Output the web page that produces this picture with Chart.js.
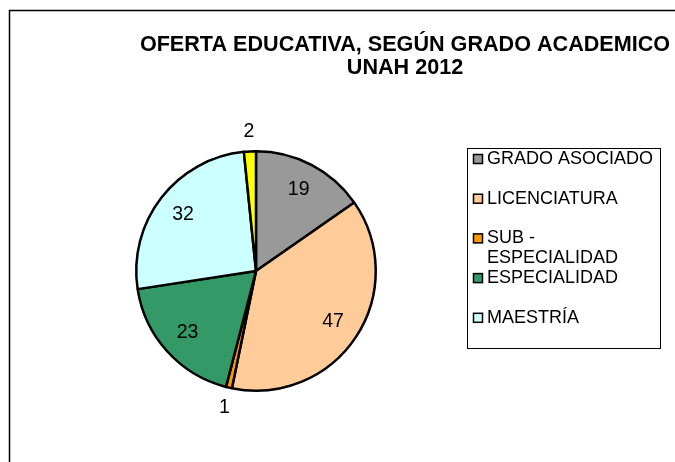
<!DOCTYPE html>
<html>
<head>
<meta charset="utf-8">
<script src="https://cdn.jsdelivr.net/npm/chart.js@4"></script>
<style>
  html, body { margin: 0; padding: 0; background: #fff; }
  #wrap { width: 675px; height: 462px; position: relative; }
</style>
</head>
<body>
<div id="wrap"><canvas id="myChart" width="675" height="462"></canvas></div>
<script>
let titleLines = ['OFERTA EDUCATIVA, SEGÚN GRADO ACADEMICO', 'UNAH 2012'];
let labels = ['GRADO ASOCIADO', 'LICENCIATURA', 'SUB - ESPECIALIDAD', 'ESPECIALIDAD', 'MAESTRÍA', 'DOCTORADO'];
let values = [19, 47, 1, 23, 32, 2];
let colors = ['#999999', '#FFCC99', '#FF9900', '#339966', '#CCFFFF', '#FFFF00'];
// the original legend only lists the first five
let legendCount = 5;

let font = '"Liberation Sans", Arial, sans-serif';

// frame, title, value labels and the boxed legend
let extras = {
    id: 'extras',
    beforeDraw(chart) {
        let c = chart.ctx;
        c.save();
        c.strokeStyle = '#000';
        c.lineWidth = 1.5;
        c.beginPath();
        c.moveTo(9.5, 462);
        c.lineTo(9.5, 10.5);
        c.lineTo(675, 10.5);
        c.stroke();
        c.restore();
    },
    afterDraw(chart) {
        let c = chart.ctx;
        c.save();
        c.fillStyle = '#000';
        c.textAlign = 'center';
        c.textBaseline = 'middle';
        c.font = 'bold 21.6px ' + font;
        c.fillText(titleLines[0], 405, 45);
        c.fillText(titleLines[1], 405, 68);

        // value labels
        c.font = '19.5px ' + font;
        let arcs = chart.getDatasetMeta(0).data;
        let total = values.reduce((a, b) => a + b, 0);
        arcs.forEach((arc, i) => {
            let p = arc.getProps(['x', 'y', 'startAngle', 'endAngle', 'outerRadius']);
            let mid = (p.startAngle + p.endAngle) / 2;
            let r = values[i] / total < 0.03 ? p.outerRadius + 20 : p.outerRadius * 0.77;
            c.fillText(String(values[i]), p.x + Math.cos(mid) * r, p.y + Math.sin(mid) * r);
        });

        // legend
        c.strokeStyle = '#000';
        c.lineWidth = 1;
        c.strokeRect(467.5, 148.5, 193, 200);
        c.textAlign = 'left';
        c.font = '18px ' + font;
        let y = 159;
        for (let i = 0; i < legendCount; i++) {
            c.fillStyle = colors[i];
            c.lineWidth = 1.5;
            c.fillRect(473.5, y - 4.5, 9, 9);
            c.strokeRect(473.5, y - 4.5, 9, 9);
            c.fillStyle = '#000';
            // wrap long names
            let words = labels[i].split(' ');
            let lines = [];
            let line = '';
            words.forEach(w => {
                let t = line ? line + ' ' + w : w;
                if (c.measureText(t).width > 168 && line) { lines.push(line); line = w; }
                else line = t;
            });
            lines.push(line);
            lines.forEach((l, k) => c.fillText(l, 487, y + k * 20));
            y += 39.7;
        }
        c.restore();
    }
};

new Chart(document.getElementById('myChart'), {
    type: 'pie',
    data: {
        labels: labels,
        datasets: [{
            data: values,
            backgroundColor: colors,
            borderColor: '#000',
            borderWidth: 2.5
        }]
    },
    options: {
        responsive: false,
        animation: false,
        layout: { padding: { left: 135, right: 298, top: 150, bottom: 70 } },
        plugins: {
            legend: { display: false },
            title: { display: false },
            tooltip: { enabled: false }
        }
    },
    plugins: [extras]
});
</script>
</body>
</html>
